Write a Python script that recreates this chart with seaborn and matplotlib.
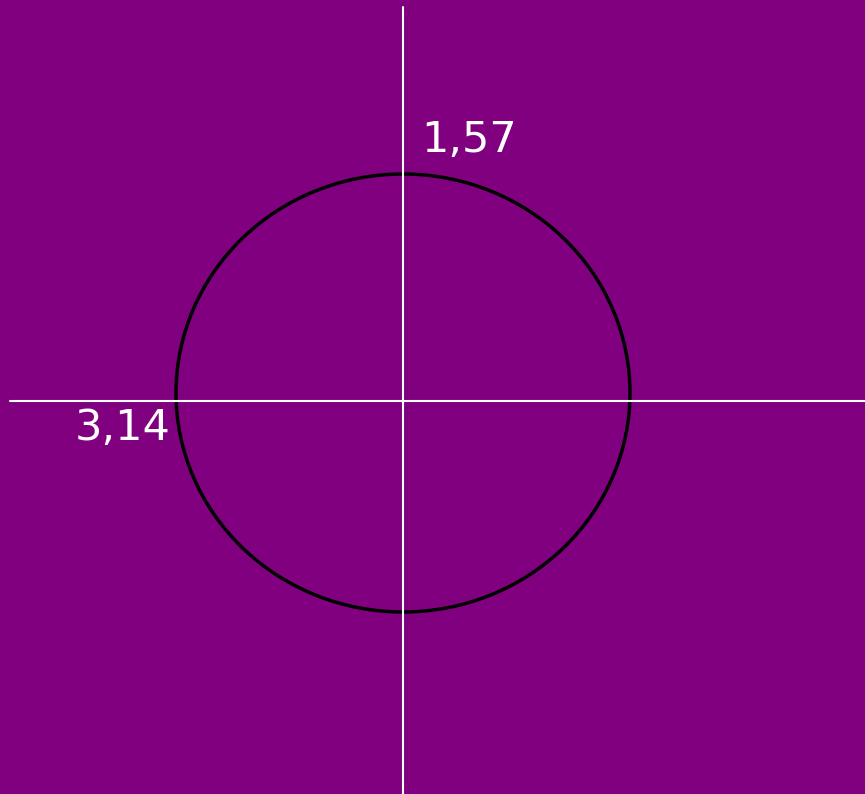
import matplotlib
matplotlib.use("Agg")
import matplotlib.pyplot as plt
import seaborn as sns
import pandas as pd
from matplotlib.patches import Ellipse

sns.set_theme(style="white")
plt.rcParams['font.family'] = ['DejaVu Sans']

# Data (canvas units, y grows downward)
h_axis_x = [10, 865]
h_axis_y = [400.5, 400.5]
v_axis_x = [402.5, 402.5]
v_axis_y = [7, 794]
circle_center = (403, 393)
circle_width = 454
circle_height = 438
labels = ["1,57", "3,14"]
label_x = [421, 75]
label_y = [152, 440]

bg = "#800080"
fig = plt.figure(figsize=(8.65, 7.94), dpi=100, facecolor=bg)
ax = fig.add_axes([0, 0, 1, 1])
ax.set_facecolor(bg)

sns.lineplot(x=h_axis_x, y=h_axis_y, ax=ax, color="white", linewidth=1.5,
             sort=False, estimator=None)
sns.lineplot(x=v_axis_x, y=v_axis_y, ax=ax, color="white", linewidth=1.5,
             sort=False, estimator=None)

ax.add_patch(Ellipse(circle_center, circle_width, circle_height, fill=False,
                     edgecolor="black", linewidth=2.5))

for t, x, y in zip(labels, label_x, label_y):
    ax.text(x, y, t, color="white", fontsize=31, ha="left", va="baseline")

ax.set_xlim(0, 865)
ax.set_ylim(794, 0)
ax.set_axis_off()

fig.savefig("out.png", dpi=100, facecolor=bg)
